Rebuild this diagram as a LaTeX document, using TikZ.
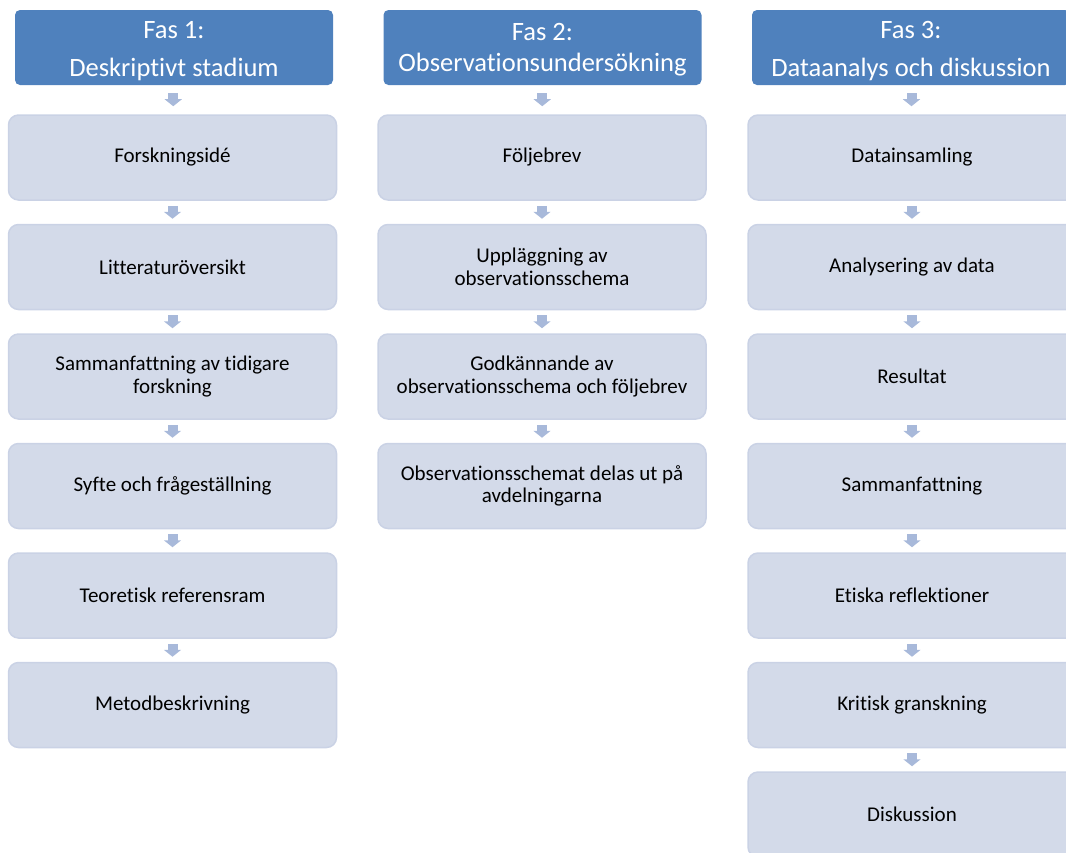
\documentclass[tikz,border=0pt]{standalone}
\usepackage{fontspec}
\setmainfont[Ligatures=NoCommon]{Carlito}
\usetikzlibrary{arrows.meta,calc}
\definecolor{hdrblue}{HTML}{4F81BD}
\definecolor{boxfill}{HTML}{D3DAE9}
\definecolor{boxline}{HTML}{CAD2E5}
\definecolor{arrowc}{HTML}{A8B9DA}
\tikzset{
  hdr/.style={rectangle, rounded corners=5pt, fill=hdrblue, minimum width=318pt, minimum height=75pt, inner sep=0pt},
  hdrtext/.style={inner sep=0pt, align=center, text=white, font=\fontsize{26.5}{38.5}\selectfont},
  stepbox/.style={rectangle, rounded corners=10pt, fill=boxfill, draw=boxline, line width=1.5pt, minimum width=328pt, minimum height=85pt, inner sep=0pt, align=center, text=black, font=\fontsize{21}{22.5}\selectfont},
  blockarrow/.style={draw=arrowc, line width=10pt, -{Triangle[width=17pt,length=7pt]}}
}
\newcommand{\conn}[2]{\draw[blockarrow] ($(#1.south)!0.5!(#2.north)+(0,-6.5)$) -- ($(#1.south)!0.5!(#2.north)+(0,6.5)$);}
\begin{document}
\begin{tikzpicture}[x=1pt,y=-1pt]
\useasboundingbox (0,0) rectangle (1066,852);
\begin{scope}
\clip (0,0) rectangle (1066,852);
% Column 1
\node[hdr] (h1) at (174,47.5) {};
\node[hdrtext] (h1t) at ($(h1.center)+(0,3.5)$) {Fas 1:\\Deskriptivt stadium};
\node[stepbox] (a1) at (172.5,157.5) {Forskningsidé};
\node[stepbox] (a2) at (172.5,267) {Litteraturöversikt};
\node[stepbox] (a3) at (172.5,376.5) {Sammanfattning av tidigare\\forskning};
\node[stepbox] (a4) at (172.5,486) {Syfte och frågeställning};
\node[stepbox] (a5) at (172.5,595.5) {Teoretisk referensram};
\node[stepbox] (a6) at (172.5,705) {Metodbeskrivning};
\conn{h1}{a1}\conn{a1}{a2}\conn{a2}{a3}\conn{a3}{a4}\conn{a4}{a5}\conn{a5}{a6}
% Column 2
\node[hdr] (h2) at (542.5,47.5) {};
\node[hdrtext, font=\fontsize{26.5}{31}\selectfont] (h2t) at ($(h2.center)+(0,2)$) {Fas 2:\\Observationsundersökning};
\node[stepbox] (b1) at (542,157.5) {Följebrev};
\node[stepbox] (b2) at (542,267) {Uppläggning av\\observationsschema};
\node[stepbox] (b3) at (542,376.5) {Godkännande av\\observationsschema och följebrev};
\node[stepbox] (b4) at (542,486) {Observationsschemat delas ut på\\avdelningarna};
\conn{h2}{b1}\conn{b1}{b2}\conn{b2}{b3}\conn{b3}{b4}
% Column 3
\node[hdr] (h3) at (911,47.5) {};
\node[hdrtext] (h3t) at ($(h3.center)+(0,3.5)$) {Fas 3:\\Dataanalys och diskussion};
\node[stepbox] (c1) at (912,157.5) {Datainsamling};
\node[stepbox] (c2) at (912,267) {Analysering av data};
\node[stepbox] (c3) at (912,376.5) {Resultat};
\node[stepbox] (c4) at (912,486) {Sammanfattning};
\node[stepbox] (c5) at (912,595.5) {Etiska reflektioner};
\node[stepbox] (c6) at (912,705) {Kritisk granskning};
\node[stepbox] (c7) at (912,814.5) {Diskussion};
\conn{h3}{c1}\conn{c1}{c2}\conn{c2}{c3}\conn{c3}{c4}\conn{c4}{c5}\conn{c5}{c6}\conn{c6}{c7}
\end{scope}
\end{tikzpicture}
\end{document}
